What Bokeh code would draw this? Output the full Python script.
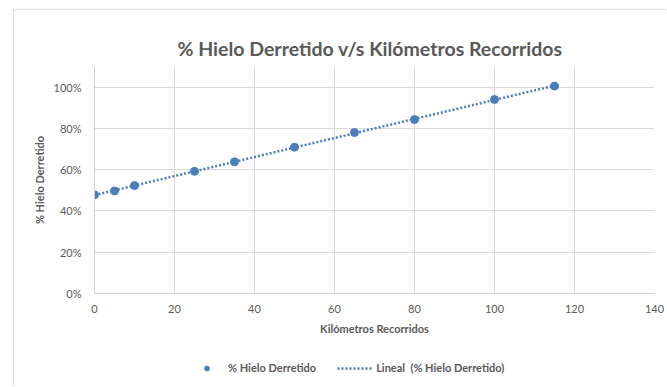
import numpy as np
from bokeh.plotting import figure
from bokeh.layouts import column
from bokeh.models import (ColumnDataSource, FixedTicker, NumeralTickFormatter,
                          Legend, LegendItem, Range1d)
from bokeh.embed import file_html
from bokeh.resources import INLINE

# Distance travelled (km) and fraction of ice melted
km = [0, 5, 10, 25, 35, 50, 65, 80, 100, 115]
hielo = [0.478, 0.497, 0.523, 0.592, 0.638, 0.709, 0.780, 0.843, 0.940, 1.005]

x_ticks = [0, 20, 40, 60, 80, 100, 120, 140]
y_ticks = [0.0, 0.2, 0.4, 0.6, 0.8, 1.0]

BLUE = "#4a7ebb"
GRAY_TXT = "#595959"
GRID = "#d9d9d9"
EDGE = "1px solid #dcdcdc"
FONT = "Lato"

# Linear trend line (least squares) across the measured range
slope, intercept = np.polyfit(km, hielo, 1)
trend_x = [min(km), max(km)]
trend_y = [slope * x + intercept for x in trend_x]

src = ColumnDataSource(dict(km=km, hielo=hielo))
trend = ColumnDataSource(dict(x=trend_x, y=trend_y))

# ---- main chart ----
p = figure(width=653, height=340, output_backend="svg", toolbar_location=None,
           x_range=Range1d(0, 140), y_range=Range1d(0, 1.1),
           min_border_left=80, min_border_right=13,
           min_border_top=56, min_border_bottom=57)
p.styles = {"margin-left": "13px", "margin-top": "9px",
            "border-left": EDGE, "border-top": EDGE}

p.outline_line_color = None
p.background_fill_color = "white"
p.border_fill_color = "white"

p.title.text = "% Hielo Derretido v/s Kilómetros Recorridos"
p.title.align = "left"
p.title.offset = 83
p.title.text_font = FONT
p.title.text_font_size = "19.5px"
p.title.text_font_style = "bold"
p.title.text_color = GRAY_TXT
p.title.standoff = 13

p.xaxis.ticker = FixedTicker(ticks=x_ticks)
p.yaxis.ticker = FixedTicker(ticks=y_ticks)
p.yaxis.formatter = NumeralTickFormatter(format="0%")
p.xaxis.axis_label = "Kilómetros Recorridos"
p.yaxis.axis_label = "% Hielo Derretido"

for ax in (p.xaxis, p.yaxis):
    ax.axis_line_color = "#cfcfcf"
    ax.major_tick_line_color = None
    ax.minor_tick_line_color = None
    ax.major_label_text_font = FONT
    ax.major_label_text_font_size = "11px"
    ax.major_label_text_color = GRAY_TXT
    ax.axis_label_text_font = FONT
    ax.axis_label_text_font_size = "11px"
    ax.axis_label_text_font_style = "bold"
    ax.axis_label_text_color = GRAY_TXT

p.xaxis.major_label_standoff = 5
p.xaxis.axis_label_standoff = 6
p.yaxis.major_label_standoff = 7
p.yaxis.axis_label_standoff = 5

p.xgrid.ticker = FixedTicker(ticks=x_ticks)
p.ygrid.ticker = FixedTicker(ticks=y_ticks)
p.grid.grid_line_color = GRID
p.grid.grid_line_width = 1

line_style = dict(line_color=BLUE, line_width=2.5, line_dash="2 2")
dot_style = dict(size=8, marker="circle", fill_color=BLUE, line_color=BLUE)

p.line("x", "y", source=trend, **line_style)
p.scatter("km", "hielo", source=src, **dot_style)

# ---- legend strip under the chart ----
q = figure(width=653, height=37, output_backend="svg", toolbar_location=None,
           x_range=Range1d(0, 1), y_range=Range1d(0, 1),
           min_border=0, min_border_left=0, min_border_right=0,
           min_border_top=0, min_border_bottom=0)
q.styles = {"margin-left": "13px", "border-left": EDGE}
q.axis.visible = False
q.grid.visible = False
q.outline_line_color = None
q.border_fill_color = "white"
q.background_fill_color = "white"

# legend swatches: one off-screen sample each so the legend has glyph values
leg_dot = q.scatter("x", "y", source=ColumnDataSource(dict(x=[-9], y=[-9])), **dot_style)
leg_line = q.line("x", "y", source=ColumnDataSource(dict(x=[-9, -8], y=[-9, -9])), **line_style)

legend = Legend(items=[LegendItem(label="% Hielo Derretido", renderers=[leg_dot]),
                       LegendItem(label="Lineal  (% Hielo Derretido)", renderers=[leg_line])],
                orientation="horizontal", location=(95, 12),
                glyph_width=35, glyph_height=12, label_standoff=4, spacing=21,
                label_text_font=FONT, label_text_font_size="11px",
                label_text_font_style="bold", label_text_color=GRAY_TXT,
                border_line_color=None, background_fill_alpha=0,
                margin=0, padding=2)
q.add_layout(legend, "center")

layout = column(p, q, spacing=0)
open("out.html", "w").write(file_html(layout, INLINE))
